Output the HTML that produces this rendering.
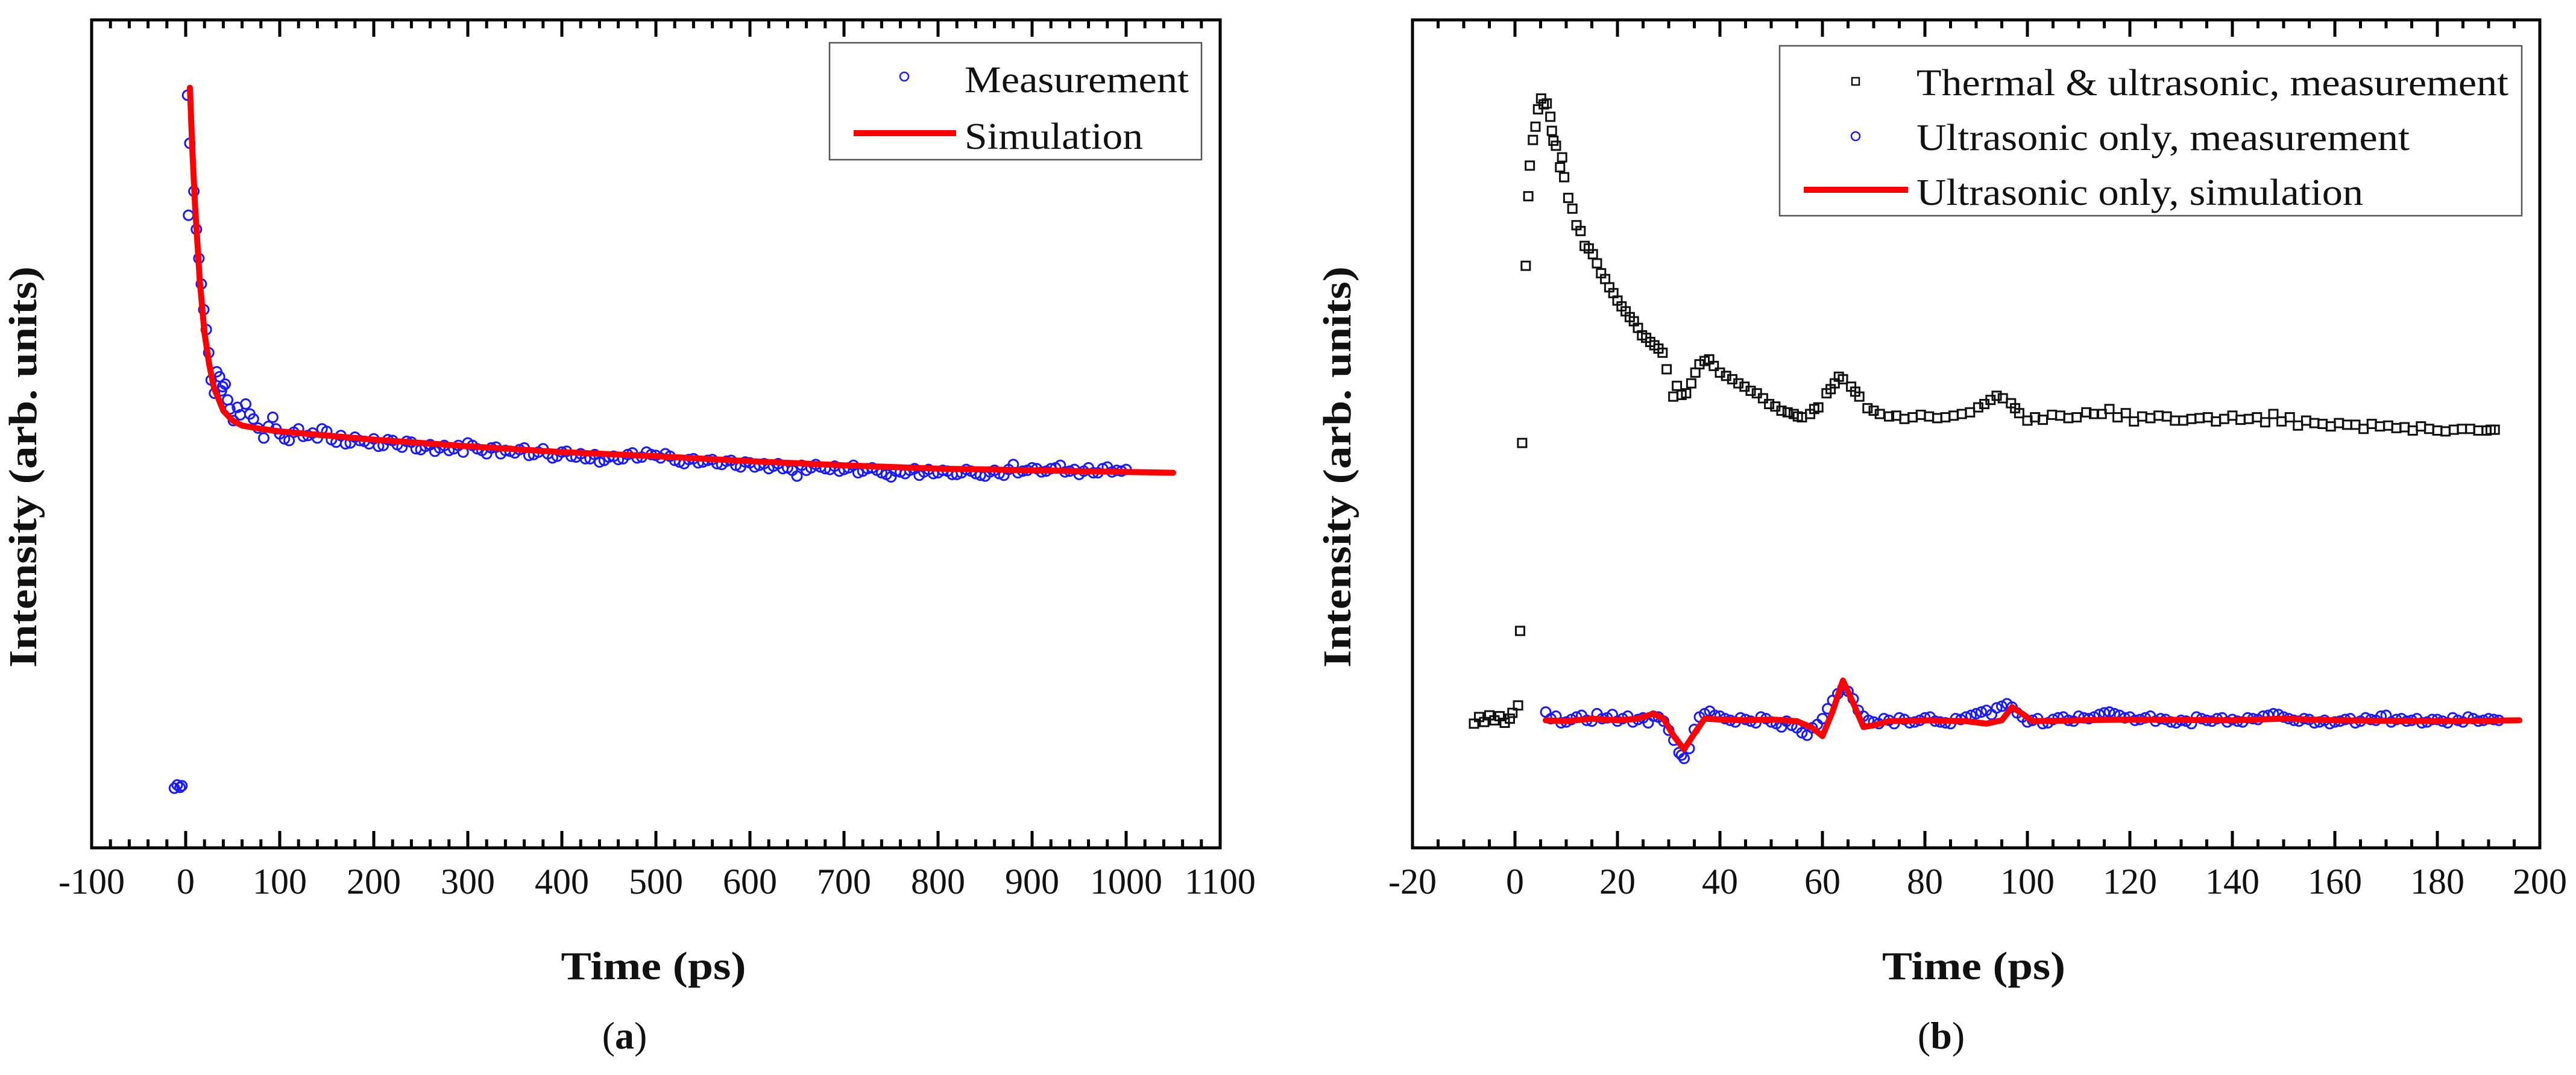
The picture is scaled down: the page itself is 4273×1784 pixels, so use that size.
<!DOCTYPE html>
<html><head><meta charset="utf-8"><style>
html,body{margin:0;padding:0;background:#fff}
svg{display:block}
text{font-family:"Liberation Serif",serif;fill:#111}
</style></head><body>
<svg id="fig" width="4273" height="1784" viewBox="0 0 4273 1784" xmlns="http://www.w3.org/2000/svg">
<g id="pa"></g>
<g id="pb"></g>
</svg>
<script>
// ---- Panel (a) data ----
const aXTicks = [-100,0,100,200,300,400,500,600,700,800,900,1000,1100];
const aSimTime = [4.5,7,10,15,20,25,30,40,50,60,80,100,150,200,300,400,500,600,700,800,900,1000,1050];
const aSimVal = [91.8,84.5,77.5,68.5,62.2,58.4,55.6,52.8,51.6,51.0,50.6,50.3,49.8,49.3,48.5,47.8,47.3,46.7,46.2,45.8,45.6,45.4,45.3];
const aMeasTime = [-12,-9,-6,-4,2,3,4.4,8.7,11.4,14,16.6,19.2,21.9,24.5,27.1,30.6,36,39.3,44.6,50.7,55,63.8,68.2,77,83,92.6,
100,110,120,130,140,150,160,170,180,190,200,210,220,230,240,250,260,270,280,290,300,310,320,330,340,350,360,370,380,390,400,410,420,430,440,450,460,470,480,490,500,510,520,530,540,550,560,570,580,590,600,610,620,630,640,650,660,670,680,690,700,710,720,730,740,750,760,770,780,790,800,810,820,830,840,850,860,870,880,890,900,910,920,930,940,950,960,970,980,990,1000];
const aMeasVal = [7.2,7.6,7.3,7.5,90.9,76.4,85.1,79.3,74.7,71.2,68.1,65.0,62.6,59.8,56.5,54.9,56.9,55.7,54.1,51.6,53.2,53.6,52.4,50.7,49.5,52.0,
50.0,49.2,50.6,49.8,49.5,50.3,49.0,48.8,49.6,49.1,49.4,48.6,49.2,48.4,49.0,48.1,48.7,48.3,48.0,48.6,48.9,48.2,47.6,48.4,48.0,47.7,48.3,47.5,48.2,47.1,47.8,47.3,47.6,47.0,46.6,47.2,46.9,47.5,47.1,47.8,47.4,47.6,46.8,46.4,47.0,46.6,46.9,46.3,46.8,46.0,46.5,46.2,45.8,46.4,45.9,44.9,45.6,46.3,45.8,46.1,45.7,46.2,45.5,45.9,45.3,44.8,45.4,45.6,45.0,45.7,45.3,45.5,45.1,45.7,45.2,44.9,45.6,45.0,46.3,45.5,45.9,45.4,45.8,46.2,45.5,45.1,45.9,45.3,46.0,45.6,45.7];
const aMeasTime2 = [33,38,42,47,58,72,88,96,105,115,125,135,145,155,165,175,185,195,205,215,225,235,245,255,265,275,285,295,305,315,325,335,345,355,365,375,385,395,405,415,425,435,445,455,465,475,485,495,505,515,525,535,545,555,565,575,585,595,605,615,625,635,645,655,665,675,685,695,705,715,725,735,745,755,765,775,785,795,805,815,825,835,845,855,865,875,885,895,905,915,925,935,945,955,965,975,985,995];
const aMeasVal2 = [57.5,55.2,56.0,53.0,52.3,51.8,50.9,50.6,49.4,50.2,49.7,50.1,50.6,49.3,49.8,48.9,49.2,48.8,48.5,49.3,48.7,49.1,48.2,48.5,47.9,48.6,48.2,47.8,48.6,48.0,48.3,47.6,47.9,48.1,47.4,47.8,47.6,47.3,47.9,47.2,47.0,47.5,46.8,47.3,47.0,47.7,47.2,47.5,47.1,47.3,46.6,46.9,46.5,46.8,46.4,46.7,46.2,46.6,46.0,46.4,46.1,45.8,45.6,46.2,45.9,46.0,45.7,45.5,45.9,45.3,45.8,45.6,45.1,45.5,45.2,45.8,45.4,45.2,45.6,45.1,45.3,45.5,45.0,45.4,45.2,45.7,45.3,45.6,45.8,45.5,45.9,45.4,45.7,45.5,45.3,45.8,45.4,45.5];

// ---- Panel (b) data ----
const bXTicks = [-20,0,20,40,60,80,100,120,140,160,180,200];
const bThermTime = [-8,-7,-6,-5,-4,-3,-2,-1,-0.5,0.6,1,1.4,2.1,2.6,2.9,3.5,4,4.5,5.1,5.6,6.2,6.9,7.5,8.8,10.4,12,13.6,15.2,16.8,18.4,20,21.6,23.2,24.8,26.4,28,29.6,30.9,32.5,34.4,36,37.9,40,42.4,44.8,47.2,49.6,52,54.4,56,57.6,59.2,60.8,62.4,64,65.6,67.2,68.8,71.2,74.4,77.6,80.8,84,87.2,90.4,92.8,95.2,96.8,98.4,100,103,106.4,109.6,113,116,119.2,122.4,125.6,128.8,132,135.2,138.4,141.6,144.8,148,151.2,154.4,157.6,160.8,164,167.2,170.4,173.6,176.8,180,183.2,186.4,189.6,191.2,
7.2,8,9.2,9.6,11.2,12.8,14.4,16,17.6,19.2,20.8,22.4,24,25.6,27.2,28.8,31.6,33.4,35.2,37,38.8,41.2,43.6,46,48.4,50.8,53.2,55.2,58.4,61.6,63.2,66.4,70,73,76,79.2,82.4,85.6,88.8,91.6,94,97.6,101.5,104.8,108,111.5,114.5,117.6,120.8,124,127.2,130.4,133.6,136.8,140,143.2,146.4,149.6,152.8,156,159.2,162.4,165.6,168.8,172,175.2,178.4,181.6,184.8,188,190.4];
const bThermVal = [15.0,15.8,15.2,16.0,15.4,15.9,15.1,15.6,16.3,17.2,26.2,48.9,70.3,78.7,82.4,85.5,87.1,89.2,90.5,89.8,89.9,88.3,85.4,82.2,78.5,75.2,72.7,71.7,69.4,67.7,66.1,64.8,63.6,61.9,61.1,60.3,57.8,54.5,54.7,56.1,58.4,59.0,57.4,56.6,55.7,54.9,53.6,52.8,52.4,52.0,52.4,53.2,54.9,56.1,56.6,55.7,54.5,53.1,52.4,52.2,52.0,52.1,52.0,52.4,53.2,54.1,54.3,53.7,52.5,51.6,51.7,52.2,52.0,52.4,53.0,52.5,52.1,52.2,51.6,51.8,52.0,51.8,51.7,52.0,52.4,52.0,51.6,51.2,51.3,51.1,51.2,51.0,50.8,50.9,50.4,50.5,50.6,50.4,50.5,
86.6,84.8,83.4,81.0,77.2,74.5,72.4,70.6,68.7,67.0,65.4,64.1,62.8,61.6,60.7,59.8,55.8,54.9,57.4,58.8,58.2,57.0,56.1,55.2,54.3,53.3,52.6,52.1,53.0,55.4,56.9,55.1,52.8,52.1,51.8,52.3,51.9,52.2,52.6,53.6,54.6,53.1,52.0,52.3,51.9,52.6,52.4,52.0,51.5,51.9,52.1,51.6,51.9,51.5,52.2,51.8,51.4,51.5,51.0,51.3,50.9,51.1,50.6,50.9,50.7,50.4,50.6,50.3,50.6,50.4,50.5];
const bUltraTime = [6,8,10,12,14,16,18,20,22,24,26,28,30,32,33,34,36,38,40,42,44,46,48,50,52,54,56,58,60,62,64,66,68,70,72,74,76,78,80,82,84,86,88,90,92,94,96,98,100,102,104,106,108,110,112,114,116,118,120,122,124,126,128,130,132,134,136,138,140,142,144,146,148,150,152,154,156,158,160,162,164,166,168,170,172,174,176,178,180,182,184,186,188,190,192];
const bUltraVal = [16.4,15.9,15.2,15.8,15.4,16.2,15.7,15.3,15.9,15.5,15.1,15.8,14.2,11.5,10.8,12.0,15.8,16.5,15.9,15.4,15.7,15.3,15.8,15.2,14.6,14.8,13.9,14.5,15.6,17.8,19.3,18.0,15.9,15.2,15.6,15.0,15.5,15.2,15.7,15.3,15.1,15.6,15.8,16.2,16.6,16.9,17.4,16.3,15.2,15.6,15.1,15.7,15.4,15.9,15.6,16.1,16.4,16.0,15.8,15.5,15.9,15.6,15.2,15.4,15.0,15.6,15.3,15.7,15.5,15.2,15.6,15.9,16.2,15.8,15.4,15.6,15.1,15.4,15.2,15.5,15.1,15.7,15.4,16.0,15.5,15.3,15.6,15.2,15.5,15.1,15.4,15.8,15.3,15.6,15.4];
const bUltraTime2 = [7,9,11,13,15,17,19,21,23,25,27,29,31,32.5,35,37,39,41,43,45,47,49,51,53,55,57,59,61,63,65,67,69,71,73,75,77,79,81,83,85,87,89,91,93,95,97,99,101,103,105,107,109,111,113,115,117,119,121,123,125,127,129,131,133,135,137,139,141,143,145,147,149,151,153,155,157,159,161,163,165,167,169,171,173,175,177,179,181,183,185,187,189,191];
const bUltraVal2 = [15.6,15.1,15.5,16.0,15.3,15.6,16.1,15.6,15.2,15.7,15.9,15.3,13.0,11.2,14.3,16.2,16.0,15.6,15.2,15.5,15.1,15.6,15.0,15.3,14.5,13.6,14.9,16.8,18.6,18.9,16.6,15.4,15.0,15.4,15.7,15.1,15.4,15.8,15.2,15.0,15.5,16.0,16.4,16.1,17.1,17.0,15.8,15.4,15.0,15.5,15.8,15.3,15.7,15.8,16.3,16.2,15.7,15.4,15.7,15.3,15.5,15.1,15.3,15.8,15.4,15.6,15.2,15.3,15.7,15.5,16.0,16.1,15.6,15.3,15.5,15.2,15.0,15.3,15.6,15.3,15.5,15.9,15.2,15.6,15.4,15.1,15.5,15.3,15.7,15.2,15.6,15.4,15.5];
const bSimTime = [6,10,15,20,24,27,29,31,33,35,37,40,45,50,55,58,60,62,64,66,68,70,73,80,88,92,95,97,99,101,110,120,140,150,160,180,196];
const bSimVal = [15.4,15.3,15.6,15.4,15.6,16.2,15.6,13.5,11.9,13.8,15.6,15.5,15.4,15.5,15.3,14.5,13.5,16.5,20.2,17.5,14.6,14.8,15.3,15.4,15.3,15.0,15.4,17.0,16.2,15.3,15.4,15.5,15.4,15.6,15.4,15.3,15.4];

const NS = 'http://www.w3.org/2000/svg';
function mk(parent, tag, attrs, txt){
  const e = document.createElementNS(NS, tag);
  for (const k in attrs) e.setAttribute(k, attrs[k]);
  if (txt !== undefined) e.textContent = txt;
  parent.appendChild(e);
  return e;
}
const TOP = 33, BOT = 1407;
function yScale(v){ return BOT - v/100*(BOT-TOP); }

function drawAxes(g, L, R, xmin, xmax, ticks, minorStep, xFn, title, titleX, titleW, yTitleX, panelLabel, labelX){
  const box = mk(g,'rect',{x:L,y:TOP,width:R-L,height:BOT-TOP,fill:'none',stroke:'#000','stroke-width':5});
  
  
  for (let t = xmin; t <= xmax + 1e-9; t += minorStep){
    const major = ticks.indexOf(Math.round(t)) >= 0;
    const len = major ? 28 : 14;
    const x = xFn(t);
    const tb = mk(g,'line',{x1:x,x2:x,y1:BOT,y2:BOT-len,stroke:'#000','stroke-width':5});
    
    
    const tt = mk(g,'line',{x1:x,x2:x,y1:TOP,y2:TOP+len,stroke:'#000','stroke-width':5});
    
    
  }
  ticks.forEach(t=>{
    const lb = mk(g,'text',{x:xFn(t),y:1483,'font-size':60,'text-anchor':'middle'},String(t));
    
    
  });
  const xt = mk(g,'text',{x:titleX,y:1625,'font-size':66,'font-weight':'bold','text-anchor':'middle',textLength:titleW,lengthAdjust:'spacingAndGlyphs'},title);
  
  
  const yt = mk(g,'text',{x:0,y:0,'font-size':66,'font-weight':'bold','text-anchor':'middle',textLength:666,lengthAdjust:'spacingAndGlyphs',transform:`translate(${yTitleX},775) rotate(-90)`},'Intensity (arb. units)');
  
  
  const pl = mk(g,'text',{x:labelX,y:1740,'font-size':64,'text-anchor':'middle'});
  
  
  mk(pl,'tspan',{},'(');
  mk(pl,'tspan',{'font-weight':'bold'},panelLabel);
  mk(pl,'tspan',{},')');
}

// ---- Panel a ----
const ga = document.getElementById('pa');
const aL = 152, aR = 2024;
const ax = t => aL + (t + 100)/1200*(aR-aL);
drawAxes(ga, aL, aR, -100, 1100, aXTicks, 20, ax, 'Time (ps)', 1084, 307, 60, 'a', 1036);
function circ(g, x, y){
  const c = mk(g,'circle',{cx:x,cy:y,r:8,fill:'none',stroke:'#1a1aff','stroke-width':3});
  return c;
}
aMeasTime.forEach((t,i)=>{
  const c = circ(ga, ax(t), yScale(aMeasVal[i]));
  
  
});
aMeasTime2.forEach((t,i)=>{
  const c = circ(ga, ax(t), yScale(aMeasVal2[i]));
  
  
});
const aLine = mk(ga,'polyline',{points:aSimTime.map((t,i)=>ax(t)+','+yScale(aSimVal[i])).join(' '),fill:'none',stroke:'#ff0000','stroke-width':10,'stroke-linejoin':'round','stroke-linecap':'round'});


const aLeg = mk(ga,'g',{});


mk(aLeg,'rect',{x:1376,y:71,width:617,height:194,fill:'#fff',stroke:'#555','stroke-width':2.5});
const le1 = mk(aLeg,'circle',{cx:1500,cy:127,r:7,fill:'none',stroke:'#1a1aff','stroke-width':2.5});


const lt1 = mk(aLeg,'text',{x:1600,y:153,'font-size':62,textLength:372,lengthAdjust:'spacingAndGlyphs'},'Measurement');


const le2 = mk(aLeg,'line',{x1:1416,x2:1586,y1:221,y2:221,stroke:'#ff0000','stroke-width':10});


const lt2 = mk(aLeg,'text',{x:1600,y:247,'font-size':62,textLength:296,lengthAdjust:'spacingAndGlyphs'},'Simulation');



// ---- Panel b ----
const gb = document.getElementById('pb');
const bL = 2343, bR = 4213;
const bx = t => bL + (t + 20)/220*(bR-bL);
drawAxes(gb, bL, bR, -20, 200, bXTicks, 5, bx, 'Time (ps)', 3274, 304, 2240, 'b', 3220);
bThermTime.forEach((t,i)=>{
  const s = mk(gb,'rect',{x:bx(t)-7,y:yScale(bThermVal[i])-7,width:14,height:14,fill:'none',stroke:'#111','stroke-width':3});
  
  
});
bUltraTime.forEach((t,i)=>{
  const c = circ(gb, bx(t), yScale(bUltraVal[i]));
  
  
});
bUltraTime2.forEach((t,i)=>{
  const c = circ(gb, bx(t), yScale(bUltraVal2[i]));
  
  
});
const bLine = mk(gb,'polyline',{points:bSimTime.map((t,i)=>bx(t)+','+yScale(bSimVal[i])).join(' '),fill:'none',stroke:'#ff0000','stroke-width':10,'stroke-linejoin':'round','stroke-linecap':'round'});


const bLeg = mk(gb,'g',{});


mk(bLeg,'rect',{x:2952,y:76,width:1231,height:282,fill:'#fff',stroke:'#555','stroke-width':2.5});
const m1 = mk(bLeg,'rect',{x:3072,y:129,width:12,height:12,fill:'none',stroke:'#111','stroke-width':2.5});


const t1 = mk(bLeg,'text',{x:3179,y:158,'font-size':62,textLength:982,lengthAdjust:'spacingAndGlyphs'},'Thermal & ultrasonic, measurement');


const m2 = mk(bLeg,'circle',{cx:3078,cy:226,r:7,fill:'none',stroke:'#1a1aff','stroke-width':2.5});


const t2 = mk(bLeg,'text',{x:3179,y:249,'font-size':62,textLength:818,lengthAdjust:'spacingAndGlyphs'},'Ultrasonic only, measurement');


const m3 = mk(bLeg,'line',{x1:2992,x2:3165,y1:315,y2:315,stroke:'#ff0000','stroke-width':10});


const t3 = mk(bLeg,'text',{x:3179,y:340,'font-size':62,textLength:741,lengthAdjust:'spacingAndGlyphs'},'Ultrasonic only, simulation');


</script>
</body></html>
